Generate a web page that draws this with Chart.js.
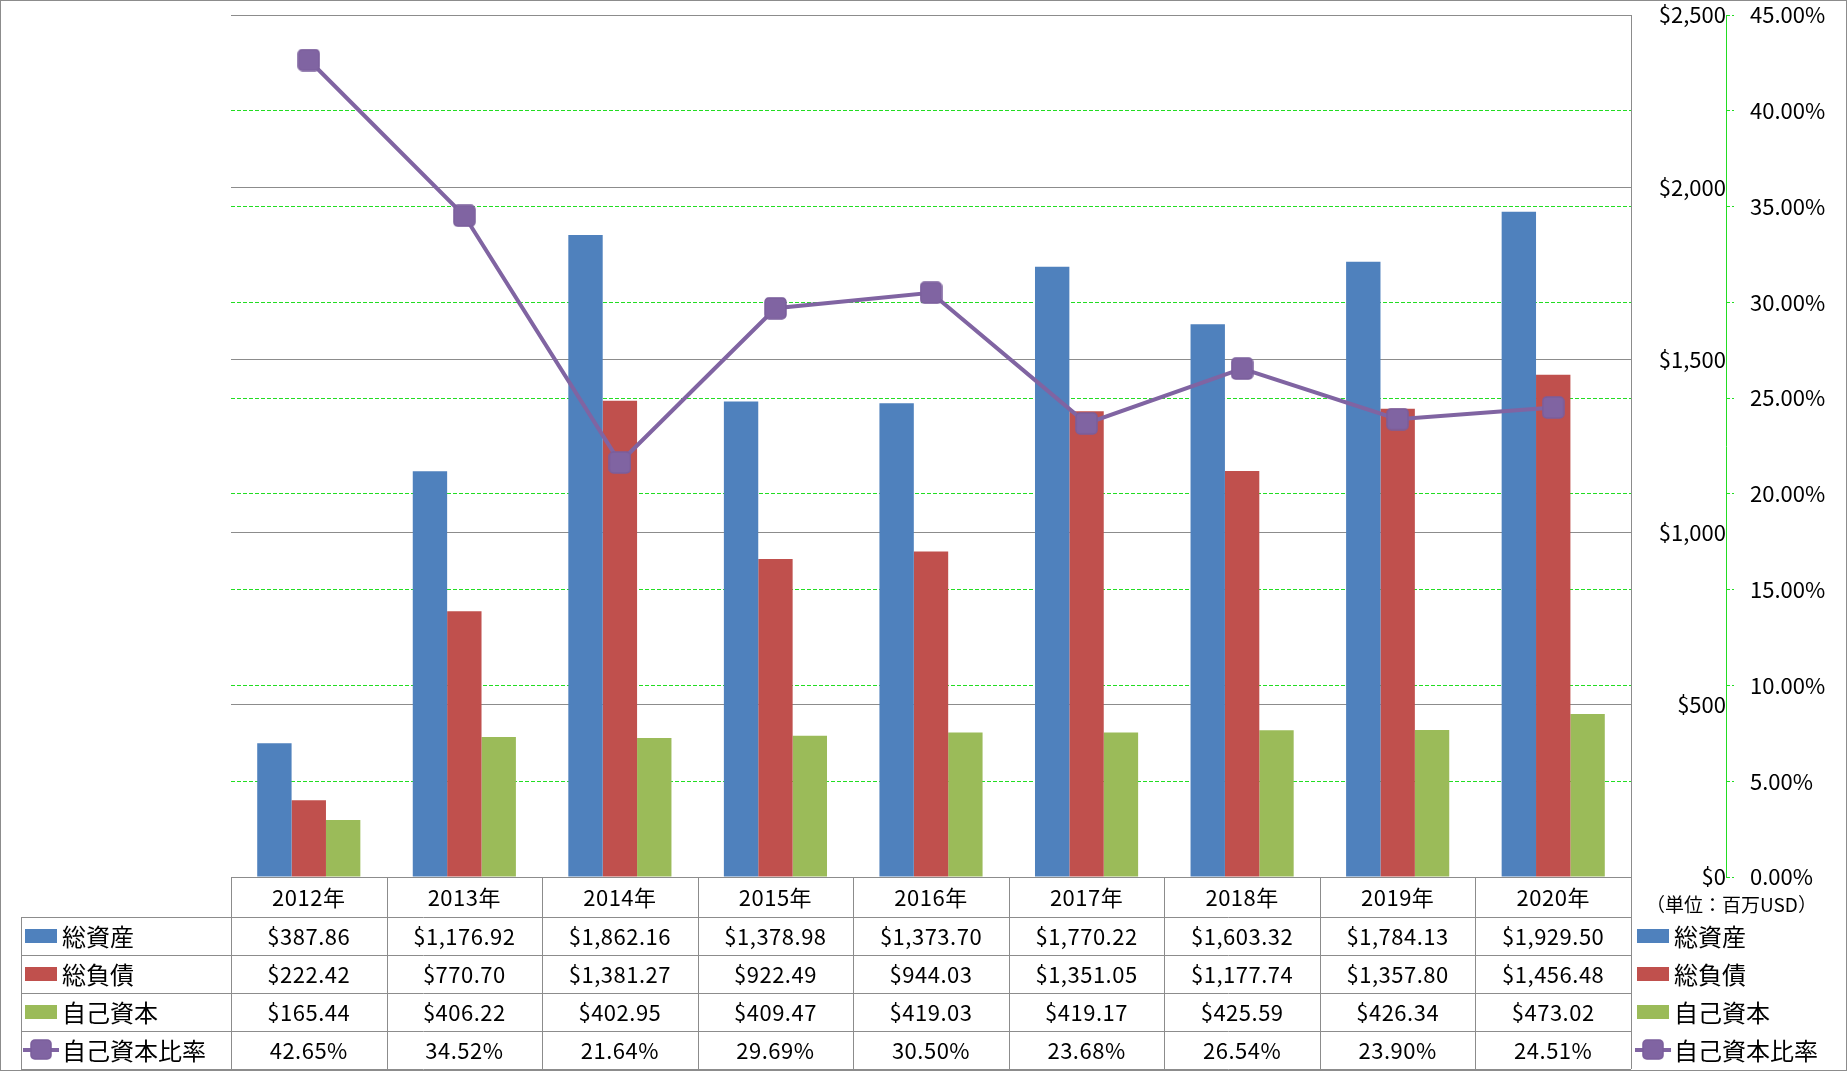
<!DOCTYPE html>
<html lang="ja">
<head>
<meta charset="utf-8">
<title>総資産・総負債・自己資本</title>
<script src="https://cdn.jsdelivr.net/npm/chart.js@4.4.1/dist/chart.umd.min.js"></script>
<style>
  html, body { margin: 0; padding: 0; background: #fff; }
  #wrap { position: relative; width: 1847px; height: 1071px; }
</style>
</head>
<body>
<div id="wrap"><canvas id="chart"></canvas></div>
<script>
const years = ['2012年','2013年','2014年','2015年','2016年','2017年','2018年','2019年','2020年'];
const totalAssets = [387.86, 1176.92, 1862.16, 1378.98, 1373.70, 1770.22, 1603.32, 1784.13, 1929.50];
const totalLiabilities = [222.42, 770.70, 1381.27, 922.49, 944.03, 1351.05, 1177.74, 1357.80, 1456.48];
const equity = [165.44, 406.22, 402.95, 409.47, 419.03, 419.17, 425.59, 426.34, 473.02];
const equityRatio = [42.65, 34.52, 21.64, 29.69, 30.50, 23.68, 26.54, 23.90, 24.51];
const usdTicks = [0, 500, 1000, 1500, 2000, 2500];
const pctTicks = [0, 5, 10, 15, 20, 25, 30, 35, 40, 45];

const seriesNames = ['総資産', '総負債', '自己資本', '自己資本比率'];
const colors = ['#4F81BD', '#C0504D', '#9BBB59', '#8064A2'];
const unitLabel = '（単位：百万USD）';

const FONT = "'Noto Sans CJK JP', 'Noto Sans', sans-serif";
Chart.defaults.font.family = FONT;
Chart.defaults.font.size = 22;
Chart.defaults.color = '#000';

const usd = v => '$' + v.toLocaleString('en-US', {minimumFractionDigits: 2, maximumFractionDigits: 2});
const pct = v => v.toFixed(2) + '%';

// square marker with slightly rounded corners
function makeMarker(size){
  const c = document.createElement('canvas');
  c.width = size; c.height = size;
  const g = c.getContext('2d');
  g.fillStyle = colors[3];
  g.strokeStyle = '#7a5e9c';
  g.lineWidth = 1.5;
  g.beginPath();
  g.roundRect(1, 1, size-2, size-2, 4);
  g.fill(); g.stroke();
  return c;
}
const marker = makeMarker(23);

const ROW_H = [40, 38, 38, 38, 38];
const GRAY = '#8c8c8c';

const tablePlugin = {
  id: 'dataTable',
  afterDraw(chart){
    const {ctx, chartArea: ca} = chart;
    const n = years.length;
    const colW = (ca.right - ca.left) / n;
    const tableLeft = 21;
    const tops = [ca.bottom];
    ROW_H.forEach(h => tops.push(tops[tops.length-1] + h));
    const bottom = tops[tops.length-1];

    ctx.save();
    ctx.strokeStyle = GRAY;
    ctx.lineWidth = 1;
    ctx.setLineDash([]);
    ctx.beginPath();
    // plot frame: top gridline, right edge, base line
    const yt = Math.round(ca.top) + 0.5;
    ctx.moveTo(ca.left, yt); ctx.lineTo(ca.right, yt);
    ctx.moveTo(Math.round(ca.right) + 0.5, ca.top); ctx.lineTo(Math.round(ca.right) + 0.5, bottom);
    // horizontal lines
    for (let r = 0; r < tops.length; r++){
      const y = Math.round(tops[r]) + 0.5;
      ctx.moveTo(r === 0 ? ca.left : tableLeft, y); ctx.lineTo(ca.right, y);
    }
    // vertical lines
    for (let c = 0; c <= n; c++){
      const xx = Math.round(ca.left + c*colW) + 0.5;
      ctx.moveTo(xx, ca.bottom); ctx.lineTo(xx, bottom);
    }
    ctx.moveTo(tableLeft + 0.5, tops[1]); ctx.lineTo(tableLeft + 0.5, bottom);
    ctx.stroke();

    // chart outer border
    ctx.strokeRect(0.5, 0.5, chart.width - 1, chart.height - 1);

    ctx.fillStyle = '#000';
    ctx.textBaseline = 'middle';
    ctx.textAlign = 'center';
    ctx.font = '22px ' + FONT;
    ctx.letterSpacing = '0.5px';
    const rowMid = r => (tops[r] + tops[r+1]) / 2;
    const rows = [
      years,
      totalAssets.map(usd),
      totalLiabilities.map(usd),
      equity.map(usd),
      equityRatio.map(pct)
    ];
    rows.forEach((vals, r) => {
      vals.forEach((t, i) => {
        const cx = chart.scales.x.getPixelForValue(i);
        ctx.fillText(t, cx, rowMid(r) + 1);
      });
    });
    ctx.letterSpacing = '0px';

    // legend keys: inside the table and on the right
    ctx.font = '24px ' + FONT;
    const drawKey = (k, x0, yMid) => {
      if (k < 3){
        ctx.fillStyle = colors[k];
        ctx.fillRect(x0, yMid - 7, 32, 14);
      } else {
        ctx.strokeStyle = colors[3];
        ctx.lineWidth = 4;
        ctx.beginPath();
        ctx.moveTo(x0 - 2, yMid); ctx.lineTo(x0 + 34, yMid);
        ctx.stroke();
        ctx.drawImage(marker, x0 + 16 - 11, yMid - 11, 22, 21);
      }
      ctx.fillStyle = '#000';
      ctx.textAlign = 'left';
      ctx.fillText(seriesNames[k], x0 + 37, yMid + 1);
    };
    for (let k = 0; k < 4; k++){
      drawKey(k, 25, rowMid(k+1));
      drawKey(k, 1637, rowMid(k+1));
    }

    ctx.font = '19px ' + FONT;
    ctx.textAlign = 'left';
    ctx.fillText(unitLabel, 1646, 905);
    ctx.restore();
  }
};

const barDs = (k, data) => ({
  type: 'bar',
  label: seriesNames[k],
  data,
  backgroundColor: colors[k],
  borderWidth: 0,
  yAxisID: 'y',
  barPercentage: 1,
  categoryPercentage: 0.663,
  order: 1
});

new Chart(document.getElementById('chart'), {
  data: {
    labels: years,
    datasets: [
      {
        type: 'line',
        label: seriesNames[3],
        data: equityRatio,
        borderColor: colors[3],
        borderWidth: 4,
        pointStyle: marker,
        pointRadius: 11,
        yAxisID: 'y1',
        order: 0
      },
      barDs(0, totalAssets),
      barDs(1, totalLiabilities),
      barDs(2, equity)
    ]
  },
  options: {
    responsive: true,
    maintainAspectRatio: false,
    animation: false,
    layout: { padding: { left: 231, top: 15, right: 0, bottom: 194 } },
    plugins: { legend: { display: false }, tooltip: { enabled: false } },
    scales: {
      x: { display: false },
      y: {
        position: 'right',
        weight: 0,
        min: 0, max: 2500,
        afterBuildTicks: s => { s.ticks = usdTicks.map(v => ({value: v})); },
        afterFit: s => { s.width = 95; s.paddingTop = 0; s.paddingBottom = 0; },
        border: { display: true, color: GRAY, width: 1 },
        grid: { color: GRAY, lineWidth: 1, drawTicks: false },
        ticks: {
          crossAlign: 'far',
          padding: 13,
          callback: v => '$' + v.toLocaleString('en-US')
        }
      },
      y1: {
        position: 'right',
        weight: 1,
        min: 0, max: 45,
        afterBuildTicks: s => { s.ticks = pctTicks.map(v => ({value: v})); },
        afterFit: s => { s.width = 121; s.paddingTop = 0; s.paddingBottom = 0; },
        border: { display: true, color: '#22dd22', width: 1, dash: [4, 2] },
        grid: { color: '#22dd22', lineWidth: 1, tickLength: 8, tickBorderDash: [3, 2], drawOnChartArea: true },
        ticks: {
          crossAlign: 'near',
          padding: 16,
          callback: v => v.toFixed(2) + '%'
        }
      }
    }
  },
  plugins: [tablePlugin]
});
</script>
</body>
</html>
